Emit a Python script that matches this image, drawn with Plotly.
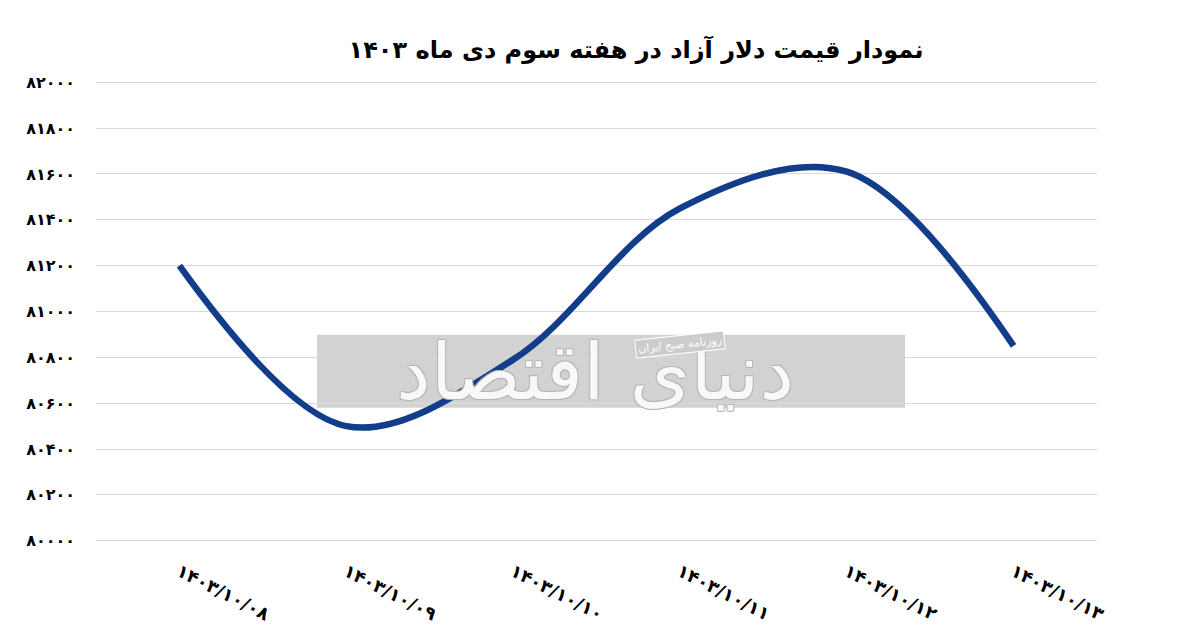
import plotly.graph_objects as go

# ---- data ----
dates = ["۱۴۰۳/۱۰/۰۸", "۱۴۰۳/۱۰/۰۹", "۱۴۰۳/۱۰/۱۰", "۱۴۰۳/۱۰/۱۱", "۱۴۰۳/۱۰/۱۲", "۱۴۰۳/۱۰/۱۳"]
prices = [81200, 80500, 80790, 81450, 81610, 80850]
y_tick_vals = [80000, 80200, 80400, 80600, 80800, 81000, 81200, 81400, 81600, 81800, 82000]
y_tick_text = ["۸۰۰۰۰", "۸۰۲۰۰", "۸۰۴۰۰", "۸۰۶۰۰", "۸۰۸۰۰", "۸۱۰۰۰", "۸۱۲۰۰", "۸۱۴۰۰", "۸۱۶۰۰", "۸۱۸۰۰", "۸۲۰۰۰"]
title_text = "نمودار قیمت دلار آزاد در هفته سوم دی ماه ۱۴۰۳"
wm_text = "دنیای اقتصاد"
wm_small = "روزنامه صبح ایران"

W, H = 1200, 644
OFF = 8  # page body margin
L, R = 96 - OFF, 1097 - OFF
T, B = 80.2 - OFF, 543.3 - OFF


def px(x):
    return (x - OFF - L) / (R - L)


def py(y):
    return (B - (y - OFF)) / (B - T)


fig = go.Figure()
fig.add_trace(go.Scatter(
    x=dates, y=prices, mode="lines",
    line=dict(color="#113d8a", width=6.5, shape="spline", smoothing=1),
    hoverinfo="x+y", showlegend=False,
))

# watermark (approximate)
fig.add_shape(type="rect", xref="paper", yref="paper",
              x0=px(317), x1=px(905), y0=py(408), y1=py(335),
              fillcolor="#d2d2d2", line=dict(width=0), layer="below")
fig.add_annotation(xref="paper", yref="paper", x=px(595), y=py(372),
                   text=wm_text, showarrow=False,
                   font=dict(family="DejaVu Sans", size=78, color="rgba(255,255,255,0.9)",
                             shadow="1px 1px 0 #b5b5b5, -1px -1px 0 #b5b5b5, 1px -1px 0 #b5b5b5, -1px 1px 0 #b5b5b5"))
fig.add_annotation(xref="paper", yref="paper", x=px(680), y=py(345),
                   text=wm_small, showarrow=False, textangle=-6,
                   font=dict(family="DejaVu Sans", size=11, color="white"),
                   bgcolor="#cccccc", bordercolor="white", borderwidth=1, borderpad=2)

fig.update_layout(
    width=W, height=H,
    paper_bgcolor="white", plot_bgcolor="white",
    margin=dict(l=L, r=W - R, t=T, b=H - B, pad=0),
    title=dict(text="<b>" + title_text + "</b>", x=(636 - OFF) / W, xanchor="center",
               y=1 - (50 - OFF) / H, yanchor="middle", xref="container", yref="container",
               font=dict(family="DejaVu Sans", size=24, color="black")),
    xaxis=dict(
        type="category", range=[-0.5, 5.5],
        showgrid=False, showline=False, zeroline=False, ticks="",
        tickangle=27, ticklabelstandoff=14,
        tickfont=dict(family="DejaVu Sans", size=18, color="black", weight="bold"),
    ),
    yaxis=dict(
        range=[79990, 82010],
        tickvals=y_tick_vals, ticktext=y_tick_text,
        showgrid=True, gridcolor="#d9d9d9", gridwidth=1,
        showline=False, zeroline=False, ticks="",
        ticklabelstandoff=20,
        tickfont=dict(family="DejaVu Sans", size=16, color="black", weight="bold"),
    ),
)

fig.write_html("out.html")
